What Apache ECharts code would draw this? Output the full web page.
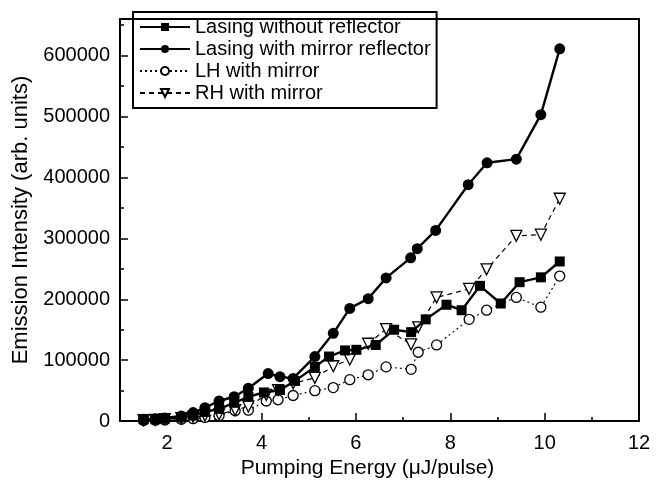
<!DOCTYPE html>
<html>
	<head>
		<meta charset="utf-8" />
		<title></title>
		<script type="text/javascript" src="https://cdn.jsdelivr.net/npm/echarts@6/dist/echarts.min.js"></script>
	</head>
	<body style="margin:0">
		<div id="main" style="width: 664px;height: 484px;"></div>
		<script type="text/javascript">
    // series names
    var names = ['Lasing without reflector', 'Lasing with mirror reflector', 'LH with mirror', 'RH with mirror'];

    // Lasing without reflector (filled squares)
    var noRefX = [1.5, 1.75, 1.95, 2.3, 2.55, 2.8, 3.1, 3.42, 3.72, 4.05, 4.39, 4.71, 5.13, 5.43, 5.77, 6.01, 6.42, 6.81, 7.17, 7.48, 7.92, 8.24, 8.63, 9.07, 9.47, 9.92, 10.32];
    var noRefY = [3000, 3000, 4000, 6000, 9000, 15000, 20000, 30000, 40000, 47000, 51000, 66000, 89000, 106000, 116000, 117000, 125000, 150000, 146000, 167000, 191000, 182000, 222000, 193000, 228000, 236000, 262000];

    // Lasing with mirror reflector (filled circles)
    var mirX = [1.5, 1.75, 1.95, 2.3, 2.55, 2.8, 3.1, 3.42, 3.72, 4.14, 4.39, 4.67, 5.13, 5.52, 5.87, 6.26, 6.64, 7.16, 7.3, 7.69, 8.38, 8.78, 9.4, 9.92, 10.32];
    var mirY = [3000, 4000, 5000, 8500, 14000, 22000, 33000, 40000, 54000, 78000, 73000, 70000, 106000, 144000, 185000, 201000, 235000, 268000, 283000, 313000, 388000, 424000, 430000, 503000, 611000];

    // LH / RH with mirror share energies
    var hX = [1.5, 1.75, 1.95, 2.3, 2.55, 2.8, 3.1, 3.44, 3.72, 4.1, 4.35, 4.67, 5.13, 5.52, 5.87, 6.26, 6.64, 7.17, 7.32, 7.71, 8.4, 8.77, 9.4, 9.92, 10.32];
    var lhY = [1000, 1500, 2000, 3000, 4000, 6000, 9000, 17000, 18000, 33000, 35000, 42000, 50000, 55000, 68000, 76000, 89000, 85000, 113000, 125000, 167000, 182000, 203000, 187000, 238000];
    var rhY = [1500, 2000, 3000, 5000, 7000, 9000, 11000, 18000, 24000, 43000, 51000, 62000, 71000, 90000, 101000, 127000, 151000, 126000, 154000, 203000, 217000, 249000, 304000, 306000, 365000];

    var xMajor = [2, 4, 6, 8, 10, 12];
    var yMajor = [0, 100000, 200000, 300000, 400000, 500000, 600000];

    function pairs(xs, ys) {
      return xs.map(function (x, i) { return [x, ys[i]]; });
    }

    var font = 'Liberation Sans';
    var black = '#000';

	var myChart = echarts.init(document.getElementById('main'));
    var option = {
      animation: false,
      grid: {
        left: 120, right: 25, top: 19, bottom: 52,
        show: true, borderColor: black, borderWidth: 2
      },
      legend: {
        left: 133, top: 12,
        orient: 'vertical',
        itemWidth: 50, itemHeight: 10, itemGap: 2,
        padding: [5, 6, 5, 6],
        borderColor: black, borderWidth: 2,
        textStyle: { fontFamily: font, fontSize: 20, color: black },
        data: names
      },
      xAxis: [
        { // minor ticks + labels
          type: 'value', min: 1, max: 12, interval: 1,
          name: 'Pumping Energy (\u03bcJ/pulse)', nameLocation: 'middle', nameGap: 35,
          nameTextStyle: { fontFamily: font, fontSize: 21, color: black, padding: [0, 24, 0, 0] },
          axisLine: { lineStyle: { color: black, width: 2 } },
          axisTick: { inside: true, length: 4, lineStyle: { color: black, width: 1.5 } },
          axisLabel: {
            fontFamily: font, fontSize: 20, color: black, margin: 12,
            formatter: function (v) { return xMajor.indexOf(v) >= 0 ? v : ''; }
          },
          splitLine: { show: false }
        },
        { // major ticks
          type: 'value', min: 1, max: 12, position: 'bottom',
          axisLine: { show: false },
          axisTick: { inside: true, length: 8, customValues: xMajor, lineStyle: { color: black, width: 1.5 } },
          axisLabel: { show: false },
          splitLine: { show: false }
        }
      ],
      yAxis: [
        {
          type: 'value', min: 0, max: 660000, interval: 50000,
          name: 'Emission Intensity (arb. units)', nameLocation: 'middle', nameGap: 86,
          nameTextStyle: { fontFamily: font, fontSize: 22, color: black },
          axisLine: { lineStyle: { color: black, width: 2 } },
          axisTick: { inside: true, length: 4, lineStyle: { color: black, width: 1.5 } },
          axisLabel: {
            fontFamily: font, fontSize: 20, color: black, margin: 10,
            formatter: function (v) { return yMajor.indexOf(v) >= 0 ? v : ''; }
          },
          splitLine: { show: false }
        },
        {
          type: 'value', min: 0, max: 660000, position: 'left',
          axisLine: { show: false },
          axisTick: { inside: true, length: 8, customValues: yMajor, lineStyle: { color: black, width: 1.5 } },
          axisLabel: { show: false },
          splitLine: { show: false }
        }
      ],
      series: [
        {
          name: names[0], type: 'line', data: pairs(noRefX, noRefY),
          symbol: 'rect', symbolSize: 10,
          itemStyle: { color: black },
          lineStyle: { color: black, width: 2.4 }, z: 4
        },
        {
          name: names[1], type: 'line', data: pairs(mirX, mirY),
          symbol: 'circle', symbolSize: 11,
          itemStyle: { color: black },
          lineStyle: { color: black, width: 2.4 }, z: 4
        },
        {
          name: names[2], type: 'line', data: pairs(hX, lhY),
          symbol: 'circle', symbolSize: 10,
          itemStyle: { color: '#fff', borderColor: black, borderWidth: 1.3 },
          lineStyle: { color: black, width: 1.1, type: [2, 3] }, z: 3
        },
        {
          name: names[3], type: 'line', data: pairs(hX, rhY),
          symbol: 'triangle', symbolSize: 11, symbolRotate: 180,
          itemStyle: { color: '#fff', borderColor: black, borderWidth: 1.3 },
          lineStyle: { color: black, width: 1.2, type: [5, 4] }, z: 3
        }
      ]
    };
    myChart.setOption(option);
		</script>
	</body>
</html>
